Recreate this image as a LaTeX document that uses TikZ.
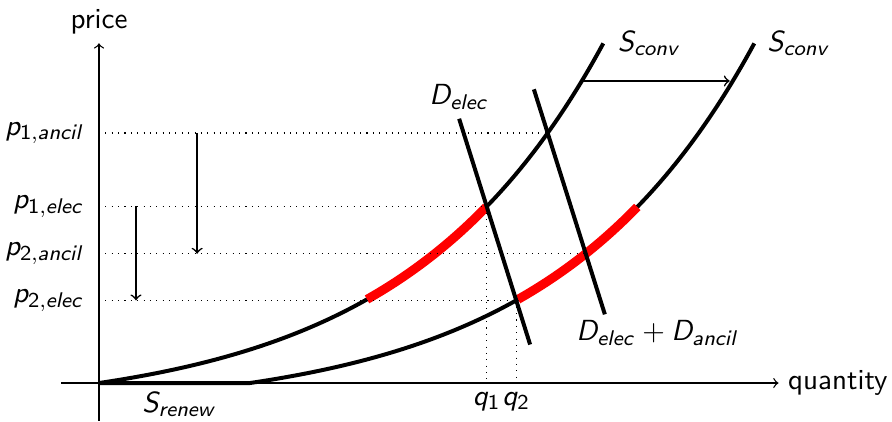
\documentclass[tikz,border=0pt]{standalone}
\usetikzlibrary{intersections,calc}
\DeclareMathAlphabet{\mathsfit}{OT1}{cmss}{m}{sl}
\newcommand\vlab[3]{$\mathsfit{#1}_{\mathsf{#2}\mathsfit{#3}}$}
\begin{document}
\begin{tikzpicture}[x=1cm,y=1cm,
  every node/.style={font=\fontsize{10.95}{13.6}\selectfont\sffamily},
  axis/.style={line width=0.5pt,->},
  curve/.style={line width=1.5pt,black},
  demand/.style={line width=1.5pt,black},
  redseg/.style={line width=3.4pt,red},
  guide/.style={dotted,line width=0.4pt},
  shiftarrow/.style={line width=0.6pt,->}]
\useasboundingbox (-1.311,-0.503) rectangle (10.503,5.073);
\def\kk{0.3775}\def\cc{0.393}
\coordinate (O) at (0,0);
% axes
\draw[axis] (-0.5,0) -- (9,0) node[right] (qlab) {quantity};
\draw[axis] (0,-0.5) -- (0,4.5) node[above] (plab) {price};
% supply curves
\draw[curve, name path=s1] plot[domain=0:6.68, samples=80, smooth] (\x, {\cc*(exp(\kk*\x)-1)}) coordinate (s1end);
\draw[curve, name path=s2] (0,0) -- (2,0) -- plot[domain=2:8.68, samples=80, smooth] (\x, {\cc*(exp(\kk*(\x-2))-1)}) coordinate (s2end);
% red segments
\draw[redseg] plot[domain=3.55:5.13, samples=40, smooth] (\x, {\cc*(exp(\kk*\x)-1)});
\draw[redseg] plot[domain=5.55:7.13, samples=40, smooth] (\x, {\cc*(exp(\kk*(\x-2))-1)});
% demand lines
\coordinate (d1t) at (4.77,3.5);
\coordinate (d1b) at (5.71,0.51);
\coordinate (d2t) at (5.76,3.89);
\coordinate (d2b) at (6.70,0.91);
\draw[demand, name path=d1] (d1t) -- (d1b);
\draw[demand, name path=d2] (d2t) -- (d2b);
% intersections
\path[name intersections={of=s1 and d1, by=A}];
\path[name intersections={of=s2 and d1, by=B}];
\path[name intersections={of=s1 and d2, by=C}];
\path[name intersections={of=s2 and d2, by=D}];
% guides
\draw[guide] (O |- C) -- (C);
\draw[guide] (O |- A) -- (A);
\draw[guide] (O |- D) -- (D);
\draw[guide] (O |- B) -- (B);
\draw[guide] (A) -- (A |- O);
\draw[guide] (B) -- (B |- O);
% price labels
\node[anchor=east, xshift=-0.07cm] (pa1) at (O |- C) {\vlab{p}{1,}{ancil}};
\node[anchor=east, xshift=-0.07cm] (pe1) at (O |- A) {\vlab{p}{1,}{elec}};
\node[anchor=east, xshift=-0.07cm] (pa2) at (O |- D) {\vlab{p}{2,}{ancil}};
\node[anchor=east, xshift=-0.07cm] (pe2) at (O |- B) {\vlab{p}{2,}{elec}};
% quantity labels
\node[below] (q1) at (A |- O) {\vlab{q}{1}{}};
\node[below] (q2) at (B |- O) {\vlab{q}{2}{}};
% vertical arrows
\coordinate (xa) at (1.3,0);
\coordinate (xb) at (0.49,0);
\draw[shiftarrow] (xa |- C) -- (xa |- D);
\draw[shiftarrow] (xb |- A) -- (xb |- B);
% horizontal shift arrow
\path[name path=hline] (5,4) -- (9.5,4);
\path[name intersections={of=s1 and hline, by=E}];
\path[name intersections={of=s2 and hline, by=F}];
\draw[shiftarrow, shorten >=0.04cm] (E) -- (F);
% curve labels
\node[anchor=west, xshift=0.07cm] (sc1) at (s1end) {$\mathsfit{S}_{\mathsfit{conv}}$};
\node[anchor=west, xshift=0.05cm] (sc2) at (s2end) {$\mathsfit{S}_{\mathsfit{conv}}$};
\node[above] (dl) at (d1t) {$\mathsfit{D}_{\mathsfit{elec}}$};
\node (dsum) at ($(d2b)+(0.70,-0.25)$) {$\mathsfit{D}_{\mathsfit{elec}}+\mathsfit{D}_{\mathsfit{ancil}}$};
\node[below] (sr) at (1.07,0) {$\mathsfit{S}_{\mathsfit{renew}}$};
\end{tikzpicture}
\end{document}
